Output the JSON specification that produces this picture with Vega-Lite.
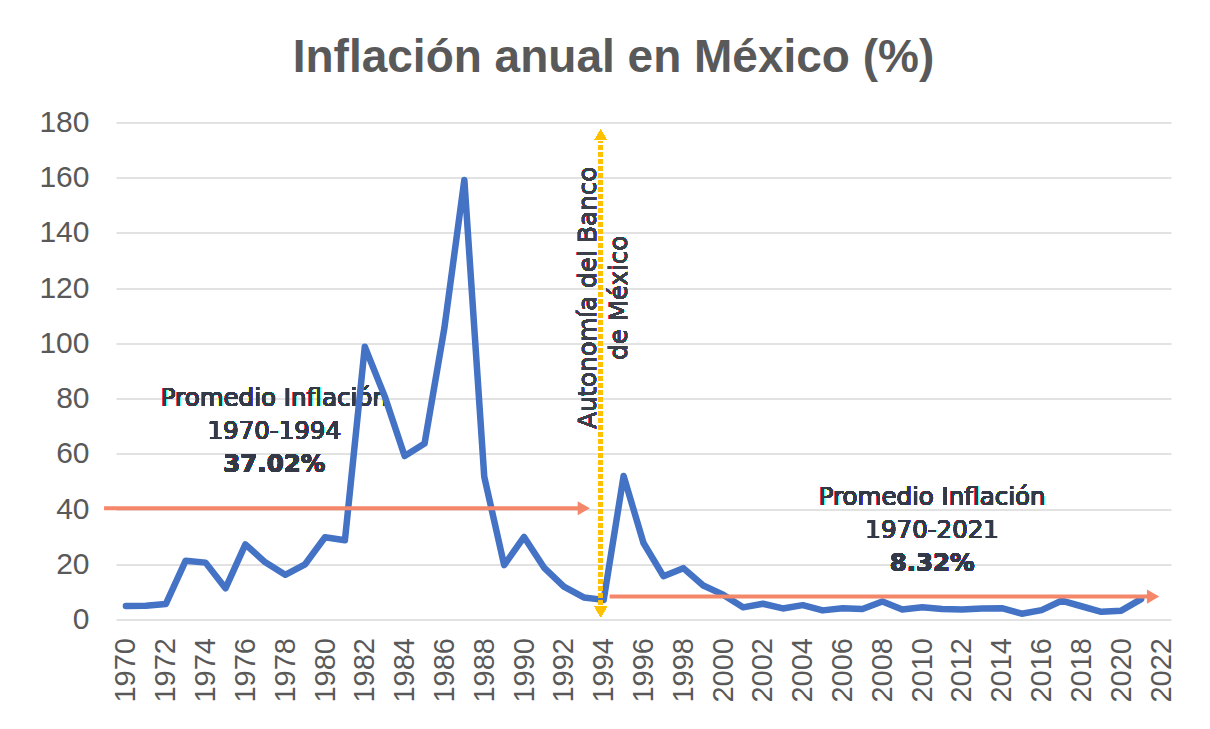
{
  "$schema": "https://vega.github.io/schema/vega-lite/v6.json",
  "width": 1055,
  "height": 497,
  "autosize": {"type": "none"},
  "padding": {"left": 116, "top": 122.5, "right": 39, "bottom": 109.5},
  "background": "white",
  "title": {
    "text": "Inflación anual en México (%)",
    "font": "Liberation Sans",
    "fontSize": 46,
    "fontWeight": "bold",
    "color": "#595959",
    "anchor": "middle",
    "frame": "group",
    "dx": -30,
    "dy": 45,
    "offset": 35,
    "baseline": "alphabetic"
  },
  "config": {
    "view": {"stroke": null},
    "axis": {
      "labelFont": "Liberation Sans",
      "labelColor": "#595959",
      "ticks": false,
      "domain": false,
      "title": null
    }
  },
  "datasets": {
    "inflacion": [
      {"anio": 1970, "inflacion": 4.9},
      {"anio": 1971, "inflacion": 5.0},
      {"anio": 1972, "inflacion": 5.6},
      {"anio": 1973, "inflacion": 21.3},
      {"anio": 1974, "inflacion": 20.6},
      {"anio": 1975, "inflacion": 11.3},
      {"anio": 1976, "inflacion": 27.2},
      {"anio": 1977, "inflacion": 20.7},
      {"anio": 1978, "inflacion": 16.2},
      {"anio": 1979, "inflacion": 20.0},
      {"anio": 1980, "inflacion": 29.8},
      {"anio": 1981, "inflacion": 28.7},
      {"anio": 1982, "inflacion": 98.8},
      {"anio": 1983, "inflacion": 80.8},
      {"anio": 1984, "inflacion": 59.2},
      {"anio": 1985, "inflacion": 63.7},
      {"anio": 1986, "inflacion": 105.7},
      {"anio": 1987, "inflacion": 159.2},
      {"anio": 1988, "inflacion": 51.7},
      {"anio": 1989, "inflacion": 19.7},
      {"anio": 1990, "inflacion": 29.9},
      {"anio": 1991, "inflacion": 18.8},
      {"anio": 1992, "inflacion": 11.9},
      {"anio": 1993, "inflacion": 8.0},
      {"anio": 1994, "inflacion": 7.1},
      {"anio": 1995, "inflacion": 52.0},
      {"anio": 1996, "inflacion": 27.7},
      {"anio": 1997, "inflacion": 15.7},
      {"anio": 1998, "inflacion": 18.6},
      {"anio": 1999, "inflacion": 12.3},
      {"anio": 2000, "inflacion": 9.0},
      {"anio": 2001, "inflacion": 4.4},
      {"anio": 2002, "inflacion": 5.7},
      {"anio": 2003, "inflacion": 4.0},
      {"anio": 2004, "inflacion": 5.2},
      {"anio": 2005, "inflacion": 3.3},
      {"anio": 2006, "inflacion": 4.1},
      {"anio": 2007, "inflacion": 3.8},
      {"anio": 2008, "inflacion": 6.5},
      {"anio": 2009, "inflacion": 3.6},
      {"anio": 2010, "inflacion": 4.4},
      {"anio": 2011, "inflacion": 3.8},
      {"anio": 2012, "inflacion": 3.6},
      {"anio": 2013, "inflacion": 4.0},
      {"anio": 2014, "inflacion": 4.1},
      {"anio": 2015, "inflacion": 2.1},
      {"anio": 2016, "inflacion": 3.4},
      {"anio": 2017, "inflacion": 6.8},
      {"anio": 2018, "inflacion": 4.8},
      {"anio": 2019, "inflacion": 2.8},
      {"anio": 2020, "inflacion": 3.2},
      {"anio": 2021, "inflacion": 7.4}
    ],
    "promedios": [
      {"periodo": "1970-1994", "desde": 1968.9, "hasta": 1993.0, "nivel": 40.3},
      {"periodo": "1970-2021", "desde": 1994.3, "hasta": 2021.6, "nivel": 8.3}
    ]
  },
  "layer": [
    {
      "data": {"name": "inflacion"},
      "mark": {"type": "text", "text": ["Promedio Inflación", "1970-1994"], "font": "DejaVu Sans", "fontSize": 24.5, "color": "#333946", "align": "center", "baseline": "alphabetic", "lineHeight": 33},
      "encoding": {"x": {"datum": 1977.45, "type": "quantitative"}, "y": {"datum": 77.4, "type": "quantitative"}}
    },
    {
      "data": {"name": "inflacion"},
      "mark": {"type": "text", "text": "37.02%", "font": "DejaVu Sans", "fontSize": 24.5, "fontWeight": "bold", "color": "#333946", "align": "center", "baseline": "alphabetic"},
      "encoding": {"x": {"datum": 1977.45, "type": "quantitative"}, "y": {"datum": 53.4, "type": "quantitative"}}
    },
    {
      "data": {"name": "inflacion"},
      "mark": {"type": "text", "text": ["Promedio Inflación", "1970-2021"], "font": "DejaVu Sans", "fontSize": 24.5, "color": "#333946", "align": "center", "baseline": "alphabetic", "lineHeight": 33},
      "encoding": {"x": {"datum": 2010.5, "type": "quantitative"}, "y": {"datum": 41.5, "type": "quantitative"}}
    },
    {
      "data": {"name": "inflacion"},
      "mark": {"type": "text", "text": "8.32%", "font": "DejaVu Sans", "fontSize": 24.5, "fontWeight": "bold", "color": "#333946", "align": "center", "baseline": "alphabetic"},
      "encoding": {"x": {"datum": 2010.5, "type": "quantitative"}, "y": {"datum": 17.6, "type": "quantitative"}}
    },
    {
      "data": {"name": "inflacion"},
      "mark": {"type": "text", "text": ["Autonomía del Banco", "de México"], "font": "DejaVu Sans", "fontSize": 24.5, "color": "#3a3f4a", "align": "center", "baseline": "middle", "angle": 270, "lineHeight": 31},
      "encoding": {"x": {"datum": 1993.25, "type": "quantitative"}, "y": {"datum": 116.5, "type": "quantitative"}}
    },
    {
      "data": {"name": "inflacion"},
      "mark": {"type": "line", "color": "#4472C4", "strokeWidth": 6.5, "strokeJoin": "round", "strokeCap": "round"},
      "encoding": {
        "x": {
          "field": "anio",
          "type": "quantitative",
          "scale": {"domain": [1969.5, 2022.5], "nice": false, "zero": false},
          "axis": {
            "values": [1970, 1972, 1974, 1976, 1978, 1980, 1982, 1984, 1986, 1988, 1990, 1992, 1994, 1996, 1998, 2000, 2002, 2004, 2006, 2008, 2010, 2012, 2014, 2016, 2018, 2020, 2022],
            "format": "d",
            "labelAngle": 270,
            "labelFontSize": 29,
            "labelPadding": 18,
            "grid": false
          }
        },
        "y": {
          "field": "inflacion",
          "type": "quantitative",
          "scale": {"domain": [0, 180], "nice": false},
          "axis": {
            "values": [0, 20, 40, 60, 80, 100, 120, 140, 160, 180],
            "labelFontSize": 30,
            "labelPadding": 27,
            "grid": true,
            "gridColor": "#d9d9d9",
            "gridWidth": 1.5
          }
        }
      }
    },
    {
      "data": {"name": "promedios"},
      "mark": {"type": "rule", "color": "#F4876A", "strokeWidth": 4},
      "encoding": {
        "x": {"field": "desde", "type": "quantitative"},
        "x2": {"field": "hasta"},
        "y": {"field": "nivel", "type": "quantitative"}
      }
    },
    {
      "data": {"name": "promedios"},
      "mark": {"type": "point", "shape": "triangle-right", "filled": true, "size": 200, "color": "#F4876A", "opacity": 1},
      "encoding": {
        "x": {"field": "hasta", "type": "quantitative"},
        "y": {"field": "nivel", "type": "quantitative"}
      }
    },
    {
      "data": {"name": "inflacion"},
      "mark": {"type": "rule", "color": "#FFC000", "strokeWidth": 4, "strokeDash": [4, 3]},
      "encoding": {
        "x": {"datum": 1993.85, "type": "quantitative"},
        "y": {"datum": 3, "type": "quantitative"},
        "y2": {"datum": 173}
      }
    },
    {
      "data": {"name": "inflacion"},
      "mark": {"type": "point", "shape": "triangle-up", "filled": true, "size": 140, "color": "#FFC000", "opacity": 1},
      "encoding": {
        "x": {"datum": 1993.85, "type": "quantitative"},
        "y": {"datum": 175.5, "type": "quantitative"}
      }
    },
    {
      "data": {"name": "inflacion"},
      "mark": {"type": "point", "shape": "triangle-down", "filled": true, "size": 140, "color": "#FFC000", "opacity": 1},
      "encoding": {
        "x": {"datum": 1993.85, "type": "quantitative"},
        "y": {"datum": 2.8, "type": "quantitative"}
      }
    }
  ]
}
